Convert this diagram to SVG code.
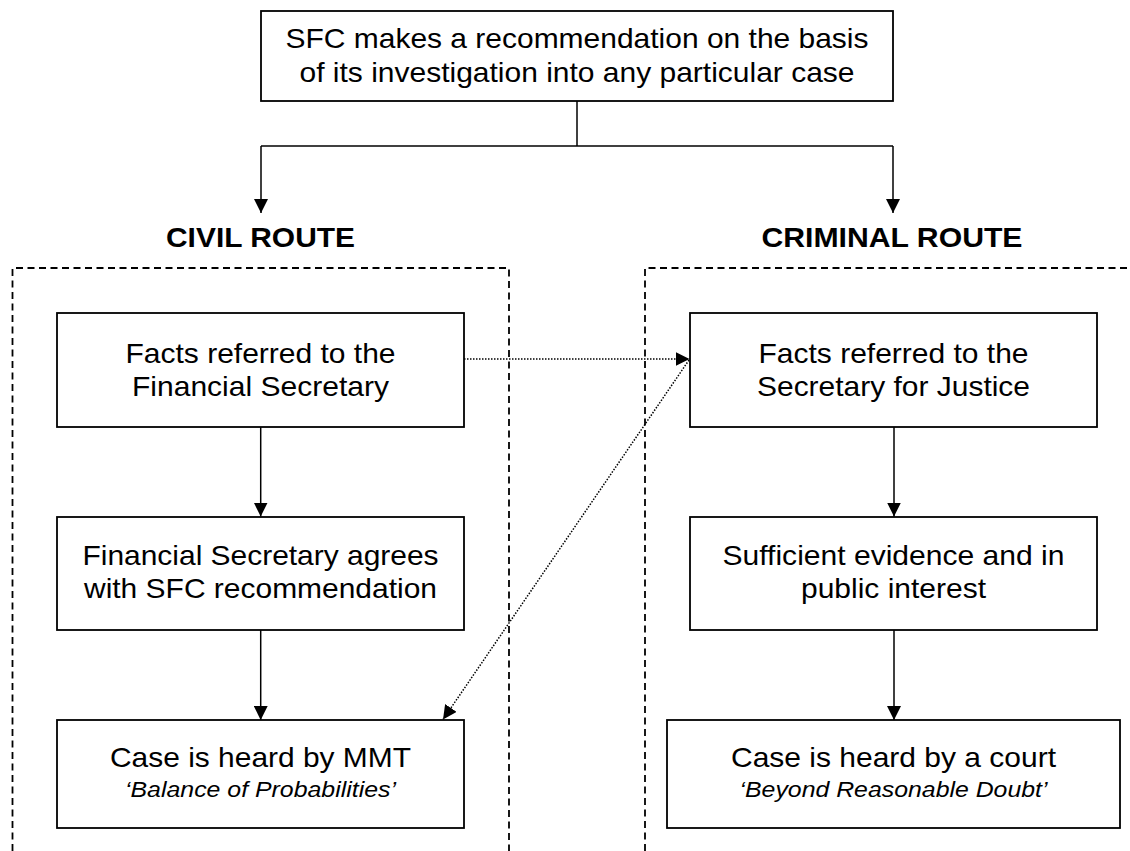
<svg xmlns="http://www.w3.org/2000/svg" width="1130" height="851" viewBox="0 0 1130 851">
<style>
.box{fill:#fff;stroke:#000;stroke-width:1.8}
.zone{fill:none;stroke:#000;stroke-width:1.8;stroke-dasharray:7 4.5}
.t{font-family:"Liberation Sans",Arial,sans-serif;font-size:28px;fill:#000;text-anchor:middle}
.i{font-family:"Liberation Sans",Arial,sans-serif;font-size:22px;font-style:italic;fill:#000;text-anchor:middle}
.h{font-family:"Liberation Sans",Arial,sans-serif;font-size:28px;font-weight:bold;fill:#000;text-anchor:middle}
.c{fill:none;stroke:#000;stroke-width:1.5}
.d{fill:none;stroke:#000;stroke-width:1.5;stroke-dasharray:1.5 1.5}
</style>
<defs>
<marker id="ah" markerUnits="userSpaceOnUse" markerWidth="14" markerHeight="14" refX="14" refY="7" orient="auto">
<path d="M0,0 L14,7 L0,14 z" fill="#000"/>
</marker>
</defs>
<rect width="1130" height="851" fill="#fff"/>
<g id="zones">
<path class="zone" d="M12.5,851 V268 H509 V851"/>
<path class="zone" d="M645,851 V268 H1130"/>
<text class="h" x="260.5" y="247" textLength="189" lengthAdjust="spacingAndGlyphs">CIVIL ROUTE</text>
<text class="h" x="892" y="247" textLength="261" lengthAdjust="spacingAndGlyphs">CRIMINAL ROUTE</text>
</g>
<g id="connectors">
<path class="c" d="M577,101 V146"/>
<path class="c" d="M261,146 H893"/>
<path class="c" d="M261,146 V213" marker-end="url(#ah)"/>
<path class="c" d="M893,146 V213" marker-end="url(#ah)"/>
<path class="c" d="M260.7,427 V516.5" marker-end="url(#ah)"/>
<path class="c" d="M260.7,630 V720" marker-end="url(#ah)"/>
<path class="c" d="M894,427 V516.5" marker-end="url(#ah)"/>
<path class="c" d="M894,630 V720" marker-end="url(#ah)"/>
<path class="d" d="M464,359 H689.5" marker-end="url(#ah)"/>
<path class="d" d="M689,360 L443,719.5" marker-end="url(#ah)"/>
</g>
<g id="sfc">
<rect class="box" x="261" y="11" width="632" height="90"/>
<text class="t" x="577" y="48" textLength="583" lengthAdjust="spacingAndGlyphs">SFC makes a recommendation on the basis</text>
<text class="t" x="577" y="82" textLength="555" lengthAdjust="spacingAndGlyphs">of its investigation into any particular case</text>
</g>
<g id="civil-facts">
<rect class="box" x="57" y="313" width="407" height="114"/>
<text class="t" x="260.5" y="363" textLength="270" lengthAdjust="spacingAndGlyphs">Facts referred to the</text>
<text class="t" x="260.5" y="396" textLength="257" lengthAdjust="spacingAndGlyphs">Financial Secretary</text>
</g>
<g id="civil-agrees">
<rect class="box" x="57" y="517" width="407" height="113"/>
<text class="t" x="260.5" y="565" textLength="356" lengthAdjust="spacingAndGlyphs">Financial Secretary agrees</text>
<text class="t" x="260.5" y="598" textLength="353" lengthAdjust="spacingAndGlyphs">with SFC recommendation</text>
</g>
<g id="civil-mmt">
<rect class="box" x="57" y="720" width="407" height="108"/>
<text class="t" x="260.5" y="767" textLength="301" lengthAdjust="spacingAndGlyphs">Case is heard by MMT</text>
<text class="i" x="260.5" y="797" textLength="271" lengthAdjust="spacingAndGlyphs">‘Balance of Probabilities’</text>
</g>
<g id="criminal-facts">
<rect class="box" x="690" y="313" width="407" height="114"/>
<text class="t" x="893.5" y="363" textLength="270" lengthAdjust="spacingAndGlyphs">Facts referred to the</text>
<text class="t" x="893.5" y="396" textLength="273" lengthAdjust="spacingAndGlyphs">Secretary for Justice</text>
</g>
<g id="criminal-evidence">
<rect class="box" x="690" y="517" width="407" height="113"/>
<text class="t" x="893.5" y="565" textLength="342" lengthAdjust="spacingAndGlyphs">Sufficient evidence and in</text>
<text class="t" x="893.5" y="598" textLength="185" lengthAdjust="spacingAndGlyphs">public interest</text>
</g>
<g id="criminal-court">
<rect class="box" x="667" y="720" width="453" height="108"/>
<text class="t" x="893.5" y="767" textLength="325" lengthAdjust="spacingAndGlyphs">Case is heard by a court</text>
<text class="i" x="893.5" y="797" textLength="308" lengthAdjust="spacingAndGlyphs">‘Beyond Reasonable Doubt’</text>
</g>
</svg>
